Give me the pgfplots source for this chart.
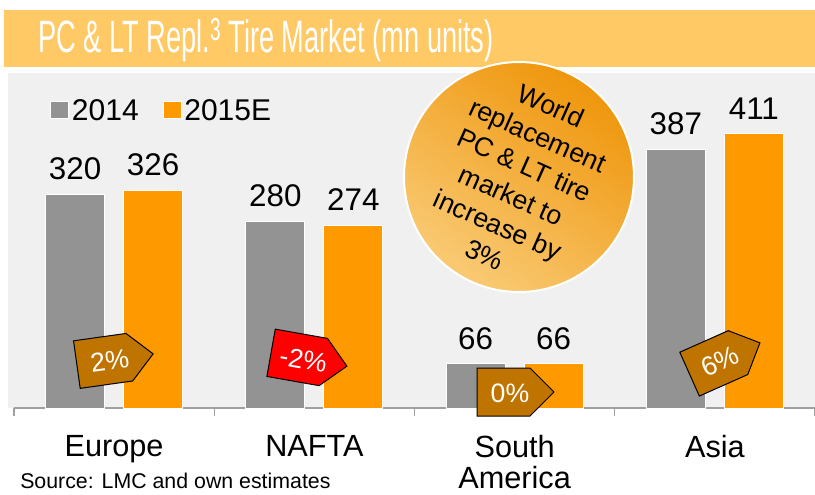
\documentclass[border=0pt]{standalone}
\usepackage{pgfplots}
\pgfplotsset{compat=1.18}
\usepackage{fontspec}
\setmainfont{Liberation Sans}
\usepackage{graphicx}
\definecolor{banner}{HTML}{FFC966}
\definecolor{bggray}{HTML}{F0F0F0}
\definecolor{bargray}{HTML}{939393}
\definecolor{barorange}{HTML}{FF9900}
\definecolor{axisgray}{HTML}{A0A0A0}
\definecolor{badgebrown}{HTML}{C07400}
\definecolor{circdark}{HTML}{EF960C}
\definecolor{circlight}{HTML}{F9CA74}

\newcommand{\badge}[5]{%
  \begin{scope}[shift={(#1,#2)}, rotate=#3]
    \draw[fill=#4, draw=black, line width=0.75pt, line join=miter] (-38,-24) -- (15,-24) -- (39,0) -- (15,24) -- (-38,24) -- cycle;
    \node[text=white, font=\fontsize{20}{20}\selectfont, inner sep=0pt, rotate=#3] at (-5,-1) {#5};
  \end{scope}}

\begin{document}
\begin{tikzpicture}
\useasboundingbox (0,0) rectangle (611.25pt,370.5pt);
\begin{scope}[shift={(0,370.5pt)}, x=0.75pt, y=0.75pt]
  \fill[banner] (4,-10) rectangle (815,-67);
  \fill[bggray] (8,-73) rectangle (815,-408);
  \node[anchor=base west, text=white, inner sep=0pt] at (38,-53) {\scalebox{0.6}[1]{\fontsize{34}{34}\selectfont PC \& LT Repl.\textsuperscript{3} Tire Market (mn units)}};
\end{scope}

\begin{axis}[
  at={(10.5pt,64.5pt)}, anchor=south west,
  scale only axis, width=600.75pt, height=251.25pt,
  xmin=-0.5, xmax=3.5, ymin=0, ymax=502,
  clip=false,
  axis x line*=bottom, axis y line=none,
  x axis line style={draw=axisgray, line width=1.1pt},
  xtick={0,1,2,3},
  xticklabels={Europe,NAFTA,{South\\America},Asia},
  xticklabel style={font=\fontsize{23}{23.5}\selectfont, align=center, anchor=north, inner sep=0pt, yshift=-20pt},
  major tick length=0pt,
  minor xtick={-0.5,0.5,1.5,2.5,3.5},
  minor tick length=6pt,
  tick align=outside,
  minor tick style={draw=axisgray, line width=1.1pt},
  ybar, bar width=44.25pt,
  nodes near coords,
  nodes near coords style={font=\fontsize{23.5}{23.5}\selectfont, anchor=south, inner sep=0pt, yshift=10.5pt, text=black},
  /pgf/number format/assume math mode=true,
  legend style={at={(0.045,0.885)}, anchor=west, draw=none, fill=none, legend columns=2,
    font=\fontsize{22.5}{22.5}\selectfont, inner xsep=0pt, inner ysep=0pt,
    nodes={inner sep=2pt},
    /tikz/every even column/.append style={column sep=16pt}},
  legend image code/.code={\fill[#1] (0pt,-5.6pt) rectangle (13.5pt,7.15pt);},
]
\addplot[fill=bargray, draw=white, line width=0.75pt, bar shift=-29.25pt] coordinates {(0,320) (1,280) (2,66) (3,387)};
\addplot[fill=barorange, draw=white, line width=0.75pt, bar shift=29.25pt] coordinates {(0,326) (1,274) (2,66) (3,411)};
\legend{2014,2015E}
\end{axis}

\begin{scope}[shift={(0,370.5pt)}, x=0.75pt, y=0.75pt]
  \badge{114.5}{-359.3}{8}{badgebrown}{2\%}
  \badge{308.5}{-359.4}{-10}{red}{-2\%}
  \badge{515}{-392}{0}{badgebrown}{0\%}
  \badge{724.3}{-358.7}{24}{badgebrown}{6\%}
  \shade[top color=circdark, bottom color=circlight, shading angle=-35] (519,-177) circle (86.25pt);
  \draw[white, line width=1.5pt] (519,-177) circle (86.25pt);
  \node[rotate=-24, align=center, font=\fontsize{20}{24.5}\selectfont, inner sep=0pt] at (518,-180) {World\\replacement\\PC \& LT tire\\market to\\increase by\\3\%};
  \node[anchor=base west, inner sep=0pt, font=\fontsize{16}{16}\selectfont] at (20,-488) {Source: LMC and own estimates};
\end{scope}
\end{tikzpicture}
\end{document}
